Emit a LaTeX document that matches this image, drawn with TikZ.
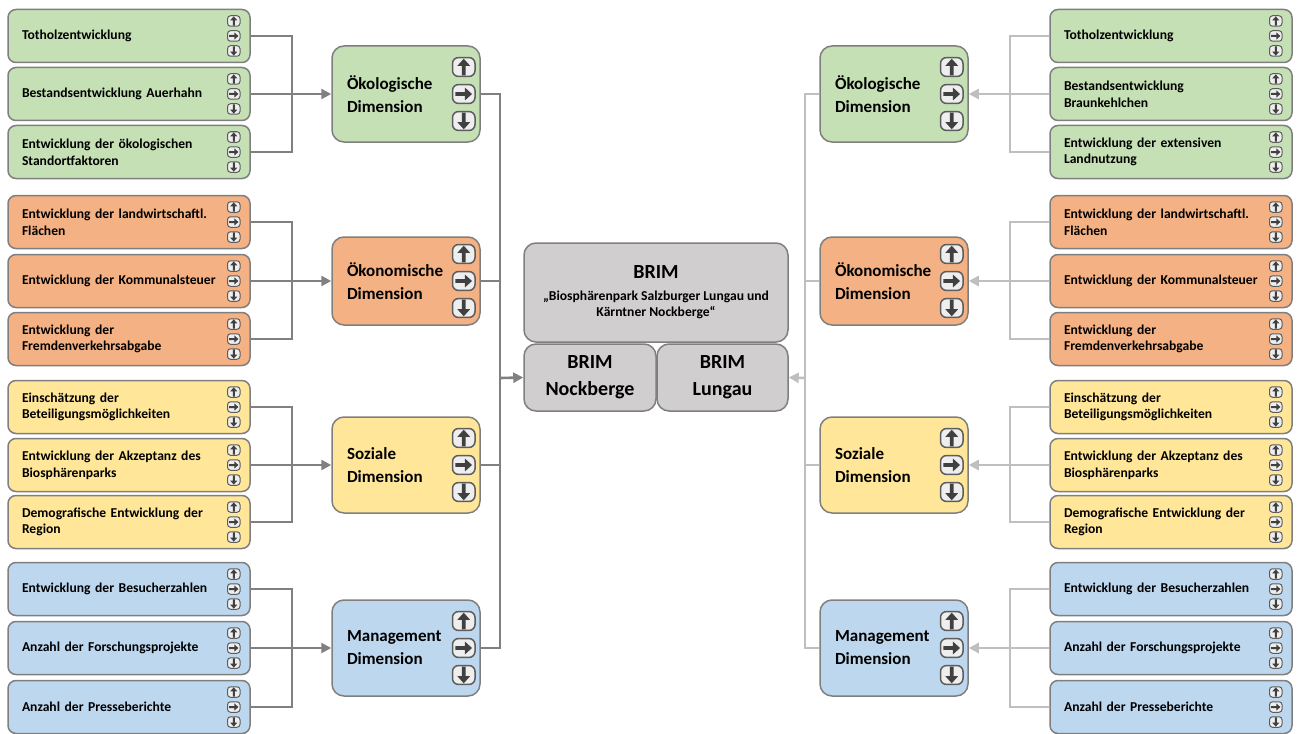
\documentclass[tikz,border=0pt]{standalone}
\usepackage{fontspec}
\setmainfont{Carlito}
\usetikzlibrary{arrows.meta}

\definecolor{oekogreen}{HTML}{C5E0B4}
\definecolor{oekonorange}{HTML}{F4B183}
\definecolor{soziyellow}{HTML}{FFE699}
\definecolor{mgmtblue}{HTML}{BDD7EE}
\definecolor{brimgray}{HTML}{D0CECE}
\definecolor{framegray}{HTML}{7F7F7F}
\definecolor{wiredark}{HTML}{808080}
\definecolor{wirelight}{HTML}{BFBFBF}
\definecolor{iconfill}{HTML}{EEEEEE}
\definecolor{icondark}{HTML}{404040}

% up / right / down trend icons at the right edge of a box
\newcommand{\trendicons}[4]{%
  \begin{scope}[shift={(#1.east)}, xshift=-8.5pt, scale=#2]
    \foreach \dy/\rot in {-15/0, 0/-90, 15/180} {
      \begin{scope}[shift={(0,\dy)}]
        \draw[fill=iconfill, draw=icondark!85, line width=#3, rounded corners=#4] (-6.25,-5.25) rectangle (6.25,5.25);
        \fill[icondark, rotate=\rot] (-1,4.6) -- (-1,-0.6) -- (-3.6,-0.6) -- (0,-4.6) -- (3.6,-0.6) -- (1,-0.6) -- (1,4.6) -- cycle;
      \end{scope}
    }
  \end{scope}}

\begin{document}
\begin{tikzpicture}[x=0.5pt, y=-0.5pt, >={Triangle[length=5pt,width=5pt]},
    every node/.style={draw=framegray, line width=0.75pt, text=black},
    ind/.style={rectangle, rounded corners=4pt, minimum width=121pt, minimum height=26.5pt,
                text width=107pt, inner xsep=7pt, align=left, font=\bfseries\fontsize{6.8}{8.3}\selectfont},
    dim/.style={rectangle, rounded corners=6pt, minimum width=74pt, minimum height=48pt,
                text width=59pt, inner xsep=7.5pt, align=left, font=\bfseries\fontsize{8.5}{11.5}\selectfont},
    brim/.style={rectangle, rounded corners=6pt, fill=brimgray, align=center, inner sep=0pt},
    darkwire/.style={draw=wiredark, line width=1.3pt},
    lightwire/.style={draw=wirelight, line width=1.3pt}]

    \useasboundingbox (0,0) rectangle (1300,733);

    % BRIM in the middle
    \node[brim, minimum width=132pt, minimum height=49.5pt, font=\bfseries\fontsize{6.8}{8}\selectfont] (brim) at (656,292.5)
        {{\fontsize{10}{12}\selectfont BRIM}\\[3pt]„Biosphärenpark Salzburger Lungau und\\Kärntner Nockberge“};
    \node[brim, minimum width=66pt, minimum height=33.5pt, font=\bfseries\fontsize{10}{13.5}\selectfont] (nock) at (590,377.5) {BRIM\\Nockberge};
    \node[brim, minimum width=65.5pt, minimum height=33.5pt, font=\bfseries\fontsize{10}{13.5}\selectfont] (lung) at (722.5,377.5) {BRIM\\Lungau};

    % Left: indicators
    \node[ind, fill=oekogreen] (lg1) at (129,36) {Totholzentwicklung};
    \node[ind, fill=oekogreen] (lg2) at (129,94) {Bestandsentwicklung Auerhahn};
    \node[ind, fill=oekogreen] (lg3) at (129,152) {Entwicklung der ökologischen\\Standortfaktoren};
    \node[ind, fill=oekonorange] (lo1) at (129,222) {Entwicklung der landwirtschaftl.\\Flächen};
    \node[ind, fill=oekonorange] (lo2) at (129,281) {Entwicklung der Kommunalsteuer};
    \node[ind, fill=oekonorange] (lo3) at (129,339) {Entwicklung der\\Fremdenverkehrsabgabe};
    \node[ind, fill=soziyellow] (ly1) at (129,407) {Einschätzung der\\Beteiligungsmöglichkeiten};
    \node[ind, fill=soziyellow] (ly2) at (129,465) {Entwicklung der Akzeptanz des\\Biosphärenparks};
    \node[ind, fill=soziyellow] (ly3) at (129,522) {Demografische Entwicklung der\\Region};
    \node[ind, fill=mgmtblue] (lb1) at (129,589) {Entwicklung der Besucherzahlen};
    \node[ind, fill=mgmtblue] (lb2) at (129,648) {Anzahl der Forschungsprojekte};
    \node[ind, fill=mgmtblue] (lb3) at (129,707) {Anzahl der Presseberichte};

    % Left: dimensions
    \node[dim, fill=oekogreen] (ldG) at (406,94) {Ökologische\\Dimension};
    \node[dim, fill=oekonorange, minimum height=44pt] (ldO) at (406,281) {Ökonomische\\Dimension};
    \node[dim, fill=soziyellow] (ldY) at (406,465) {Soziale\\Dimension};
    \node[dim, fill=mgmtblue] (ldB) at (406,648) {Management\\Dimension};

    % Right: dimensions
    \node[dim, fill=oekogreen] (rdG) at (894,94) {Ökologische\\Dimension};
    \node[dim, fill=oekonorange, minimum height=44pt] (rdO) at (894,281) {Ökonomische\\Dimension};
    \node[dim, fill=soziyellow] (rdY) at (894,465) {Soziale\\Dimension};
    \node[dim, fill=mgmtblue] (rdB) at (894,648) {Management\\Dimension};

    % Right: indicators
    \node[ind, fill=oekogreen] (rg1) at (1171,36) {Totholzentwicklung};
    \node[ind, fill=oekogreen] (rg2) at (1171,94) {Bestandsentwicklung\\Braunkehlchen};
    \node[ind, fill=oekogreen] (rg3) at (1171,152) {Entwicklung der extensiven\\Landnutzung};
    \node[ind, fill=oekonorange] (ro1) at (1171,222) {Entwicklung der landwirtschaftl.\\Flächen};
    \node[ind, fill=oekonorange] (ro2) at (1171,281) {Entwicklung der Kommunalsteuer};
    \node[ind, fill=oekonorange] (ro3) at (1171,339) {Entwicklung der\\Fremdenverkehrsabgabe};
    \node[ind, fill=soziyellow] (ry1) at (1171,407) {Einschätzung der\\Beteiligungsmöglichkeiten};
    \node[ind, fill=soziyellow] (ry2) at (1171,465) {Entwicklung der Akzeptanz des\\Biosphärenparks};
    \node[ind, fill=soziyellow] (ry3) at (1171,522) {Demografische Entwicklung der\\Region};
    \node[ind, fill=mgmtblue] (rb1) at (1171,589) {Entwicklung der Besucherzahlen};
    \node[ind, fill=mgmtblue] (rb2) at (1171,648) {Anzahl der Forschungsprojekte};
    \node[ind, fill=mgmtblue] (rb3) at (1171,707) {Anzahl der Presseberichte};

    % trend icons
    \foreach \n in {lg1,lg2,lg3,lo1,lo2,lo3,ly1,ly2,ly3,lb1,lb2,lb3,
                    rg1,rg2,rg3,ro1,ro2,ro3,ry1,ry2,ry3,rb1,rb2,rb3}
        \trendicons{\n}{1}{0.5pt}{1.5pt};
    \foreach \n in {ldG,ldO,ldY,ldB,rdG,rdO,rdY,rdB}
        \trendicons{\n}{1.8}{0.75pt}{3pt};

    % junctions
    \coordinate (ljG) at (292,94);
    \coordinate (ljO) at (292,281);
    \coordinate (ljY) at (292,465);
    \coordinate (ljB) at (292,648);
    \coordinate (ljC) at (500,378);
    \coordinate (rjC) at (805,378);
    \coordinate (rjG) at (1010,94);
    \coordinate (rjO) at (1010,281);
    \coordinate (rjY) at (1010,465);
    \coordinate (rjB) at (1010,648);

    % Left wires
    \draw[darkwire] (lg1.east) -- (lg1.east -| ljG) -- (lg3.east -| ljG) -- (lg3.east);
    \draw[darkwire] (lo1.east) -- (lo1.east -| ljO) -- (lo3.east -| ljO) -- (lo3.east);
    \draw[darkwire] (ly1.east) -- (ly1.east -| ljY) -- (ly3.east -| ljY) -- (ly3.east);
    \draw[darkwire] (lb1.east) -- (lb1.east -| ljB) -- (lb3.east -| ljB) -- (lb3.east);
    \path (lg2.east) edge[darkwire, ->] (ldG.west);
    \path (lo2.east) edge[darkwire, ->] (ldO.west);
    \path (ly2.east) edge[darkwire, ->] (ldY.west);
    \path (lb2.east) edge[darkwire, ->] (ldB.west);
    \draw[darkwire] (ldG.east) -- (ldG.east -| ljC) -- (ldB.east -| ljC) -- (ldB.east);
    \draw[darkwire] (ldO.east) -- (ldO.east -| ljC);
    \draw[darkwire] (ldY.east) -- (ldY.east -| ljC);
    \path (ljC) edge[darkwire, ->] (nock.west);

    % Right wires
    \draw[lightwire] (rg1.west) -- (rg1.west -| rjG) -- (rg3.west -| rjG) -- (rg3.west);
    \draw[lightwire] (ro1.west) -- (ro1.west -| rjO) -- (ro3.west -| rjO) -- (ro3.west);
    \draw[lightwire] (ry1.west) -- (ry1.west -| rjY) -- (ry3.west -| rjY) -- (ry3.west);
    \draw[lightwire] (rb1.west) -- (rb1.west -| rjB) -- (rb3.west -| rjB) -- (rb3.west);
    \path (rg2.west) edge[lightwire, ->] (rdG.east);
    \path (ro2.west) edge[lightwire, ->] (rdO.east);
    \path (ry2.west) edge[lightwire, ->] (rdY.east);
    \path (rb2.west) edge[lightwire, ->] (rdB.east);
    \draw[lightwire] (rdG.west) -- (rdG.west -| rjC) -- (rdB.west -| rjC) -- (rdB.west);
    \draw[lightwire] (rdO.west) -- (rdO.west -| rjC);
    \draw[lightwire] (rdY.west) -- (rdY.west -| rjC);
    \path (rjC) edge[lightwire, ->] (lung.east);
\end{tikzpicture}
\end{document}
